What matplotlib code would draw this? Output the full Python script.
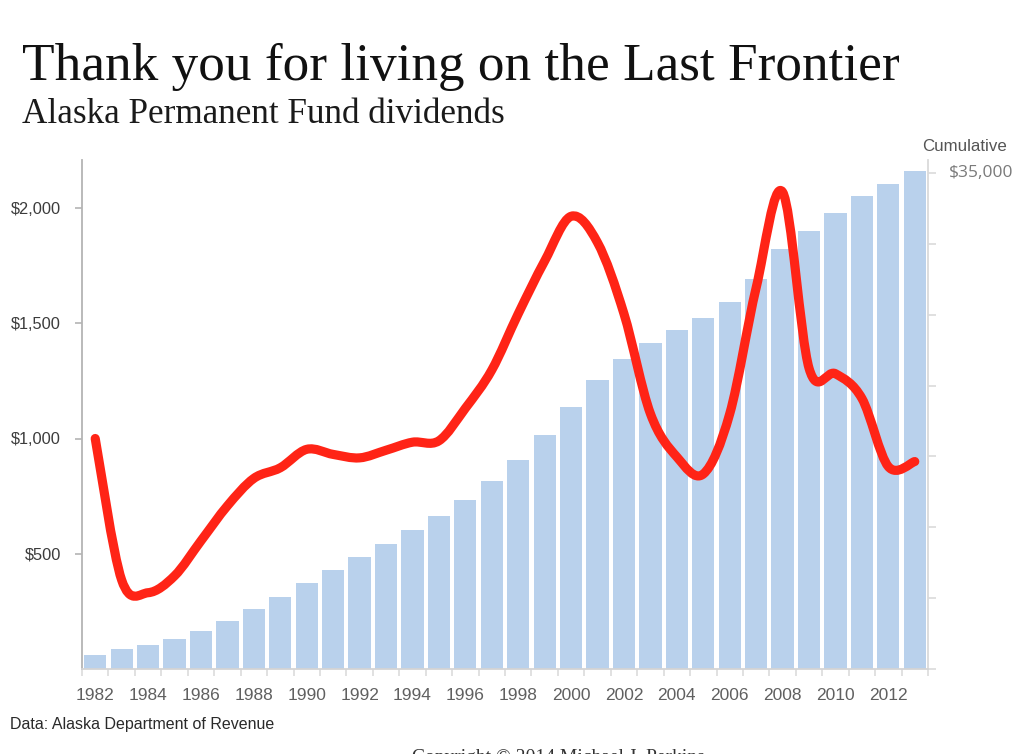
import matplotlib
matplotlib.use("Agg")
import matplotlib.pyplot as plt
from matplotlib.path import Path
from matplotlib.patches import PathPatch
from matplotlib.ticker import FixedLocator
import numpy as np

# ---------------- data ----------------
years = list(range(1982, 2014))
dividends = [1000, 386, 331, 404, 556, 708, 827, 873, 953, 931, 916, 949,
             984, 990, 1131, 1297, 1541, 1770, 1964, 1850, 1541, 1108, 920,
             846, 1107, 1654, 2069, 1305, 1281, 1174, 878, 900]
cumulative = [1000, 1386, 1717, 2121, 2677, 3386, 4212, 5086, 6038, 6969,
              7885, 8835, 9819, 10809, 11940, 13236, 14777, 16547, 18511,
              20361, 21902, 23009, 23929, 24775, 25882, 27536, 29605, 30910,
              32191, 33365, 34243, 35143]
left_ticks = [500, 1000, 1500, 2000]
left_labels = ["$500", "$1,000", "$1,500", "$2,000"]
right_ticks = [0, 5000, 10000, 15000, 20000, 25000, 30000, 35000]
right_label_top = "$35,000"
xtick_years = list(range(1982, 2013, 2))

title = "Thank you for living on the Last Frontier"
subtitle = "Alaska Permanent Fund dividends"
source = "Data: Alaska Department of Revenue"
copyright_txt = "Copyright \u00a9 2014 Michael J. Perkins"

# ---------------- figure ----------------
W, H = 1024, 754
fig = plt.figure(figsize=(W / 100, H / 100), dpi=100)
fig.patch.set_facecolor("white")

ax_l, ax_r, ax_b, ax_t = 82, 928, 669, 160
ax = fig.add_axes([ax_l / W, 1 - ax_b / H, (ax_r - ax_l) / W, (ax_b - ax_t) / H])
ax2 = ax.twinx()

bar_color = "#b9d1ec"
ax2.bar(years, cumulative, width=0.84, color=bar_color, edgecolor="none", zorder=1)
ax2.set_ylim(0, 35000 * (ax_b - ax_t) / (ax_b - 173))

# smoothed dividend line (Catmull-Rom style Bezier through the data points)
xs = np.array(years, dtype=float)
ys = np.array(dividends, dtype=float)
verts = [(xs[0], ys[0])]
codes = [Path.MOVETO]
n = len(xs)
for i in range(n - 1):
    p0 = np.array([xs[max(i - 1, 0)], ys[max(i - 1, 0)]])
    p1 = np.array([xs[i], ys[i]])
    p2 = np.array([xs[i + 1], ys[i + 1]])
    p3 = np.array([xs[min(i + 2, n - 1)], ys[min(i + 2, n - 1)]])
    c1 = p1 + (p2 - p0) / 6.0
    c2 = p2 - (p3 - p1) / 6.0
    verts += [tuple(c1), tuple(c2), tuple(p2)]
    codes += [Path.CURVE4] * 3
path = Path(verts, codes)
ax.add_patch(PathPatch(path, facecolor="none", edgecolor="#ff2416", lw=6.6,
                       capstyle="round", joinstyle="round", zorder=3))

ax.set_ylim(0, 2000 * (ax_b - ax_t) / (ax_b - 208))
ax.set_xlim(1981.5, 2013.5)

ax.set_zorder(ax2.get_zorder() + 1)
ax.patch.set_visible(False)

# spines
for a in (ax, ax2):
    a.spines["top"].set_visible(False)
ax.spines["left"].set_color("#b4b4b4")
ax.spines["left"].set_linewidth(1.3)
ax.spines["bottom"].set_color("#d4d4d4")
ax.spines["bottom"].set_linewidth(1.3)
ax.spines["right"].set_visible(False)
ax2.spines["left"].set_visible(False)
ax2.spines["bottom"].set_visible(False)
ax2.spines["right"].set_color("#dadada")
ax2.spines["right"].set_linewidth(1.3)

# left ticks
ax.set_yticks(left_ticks)
ax.set_yticklabels(left_labels)
ax.tick_params(axis="y", direction="out", length=5, width=1.2, color="#b4b4b4",
               labelsize=11.8, labelcolor="#3c3c3c", pad=10)
for lab in ax.get_yticklabels():
    lab.set_family("Liberation Sans")

# x ticks
ax.set_xticks(xtick_years)
ax.set_xticklabels([str(y) for y in xtick_years])
ax.xaxis.set_minor_locator(FixedLocator([y - 0.5 for y in years] + [years[-1] + 0.5]))
ax.tick_params(axis="x", which="major", length=0, labelsize=12.5,
               labelcolor="#606060", pad=14)
ax.tick_params(axis="x", which="minor", direction="out", length=5, width=1.2,
               color="#dcdcdc")
for lab in ax.get_xticklabels():
    lab.set_family("Liberation Sans")

# right ticks
ax2.set_yticks(right_ticks)
ax2.set_yticklabels(["" for _ in right_ticks[:-1]] + [right_label_top])
ax2.tick_params(axis="y", direction="out", length=6, width=1.2, color="#dadada",
                labelsize=12.5, labelcolor="#7a7a7a", pad=9)
for lab in ax2.get_yticklabels():
    lab.set_family("Open Sans")
    lab.set_verticalalignment("center")

# texts
def fx(px):
    return px / W

def fy(py):
    return 1 - py / H

fig.text(fx(22), fy(80), title, family="Liberation Serif", fontsize=38.3,
         color="#111111", ha="left", va="baseline")
fig.text(fx(22), fy(123), subtitle, family="Liberation Serif", fontsize=25.3,
         color="#1a1a1a", ha="left", va="baseline")
fig.text(fx(922), fy(151), "Cumulative", family="Liberation Sans", fontsize=12.2,
         color="#555555", ha="left", va="baseline")
fig.text(fx(10), fy(729), source, family="Liberation Sans", fontsize=11.5,
         color="#2a2a2a", ha="left", va="baseline")
fig.text(fx(412), fy(749), copyright_txt, family="Liberation Serif", fontsize=14,
         color="#333333", ha="left", va="top")

fig.savefig("out.png", dpi=100, facecolor="white")
